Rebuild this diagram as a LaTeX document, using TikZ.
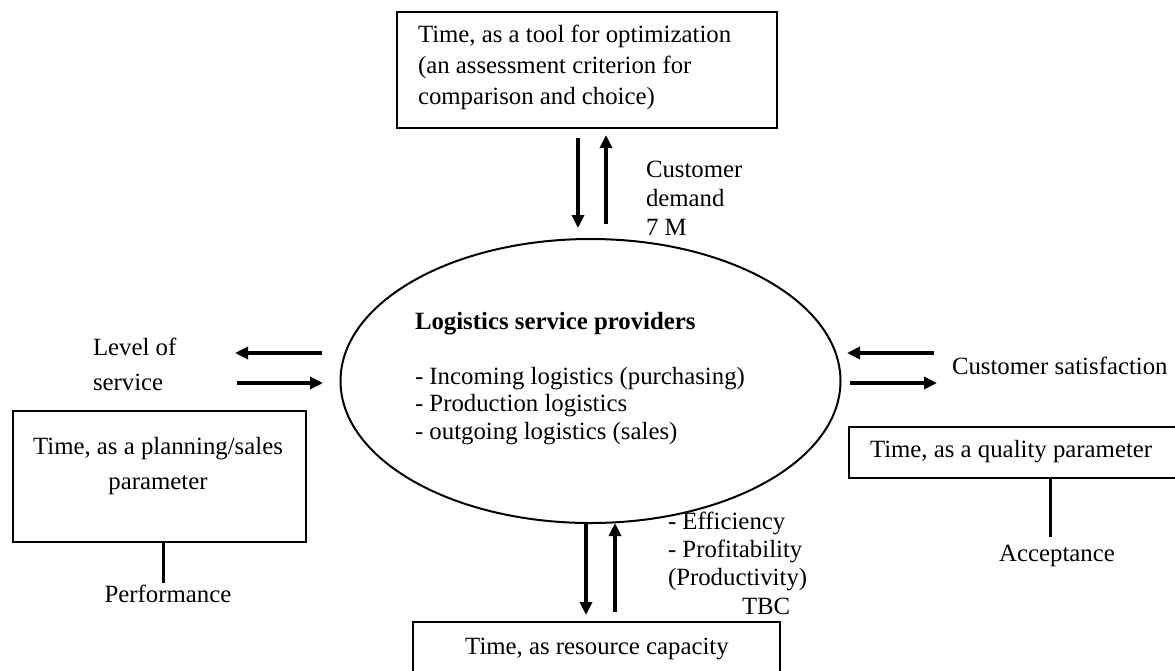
\documentclass[tikz,border=0pt]{standalone}
\usepackage{fontspec}
\setmainfont{Liberation Serif}
\usetikzlibrary{shapes.geometric,arrows.meta}
\begin{document}
\begin{tikzpicture}[x=1pt,y=-1pt,
  every node/.style={font=\fontsize{24.8}{29}\selectfont, inner sep=0pt, outer sep=0pt},
  boxst/.style={draw, line width=2.4pt, rectangle},
  arr/.style={line width=3.2pt, -{Triangle[width=12pt,length=13pt]}},
  stem/.style={line width=3pt},
  txt/.style={align=left, anchor=west}]
\useasboundingbox (0,0) rectangle (1175,670);

% boxes
\node[boxst, minimum width=380pt, minimum height=116pt] (topbox) at (587,70) {};
\node[boxst, minimum width=293pt, minimum height=131pt] (lbox) at (159.5,476.5) {};
\node[boxst, minimum width=341pt, minimum height=51pt] (rbox) at (1019.5,452.5) {};
\node[boxst, minimum width=367pt, minimum height=80pt] (bbox) at (596.5,662) {};
\node[draw, ellipse, line width=2pt, minimum width=500pt, minimum height=284pt] (ell) at (590.5,381) {};

% texts
\node[txt, font=\fontsize{24.8}{31}\selectfont] (toptxt) at (418,67) {Time, as a tool for optimization\\(an assessment criterion for\\comparison and choice)};
\node[txt, font=\fontsize{24.8}{35}\selectfont] (lvl) at (93,364) {Level of\\service};
\node[align=center, font=\fontsize{24.8}{35}\selectfont] (ltxt) at (158,466) {Time, as a planning/sales\\parameter};
\node (perf) at (168,594) {Performance};
\node[txt] (dem) at (646,198) {Customer\\demand\\7 M};
\node[txt, font=\bfseries\fontsize{24.8}{29}\selectfont] (title) at (415,324) {Logistics service providers};
\node[txt, font=\fontsize{24.8}{27.5}\selectfont] (list) at (415,406) {- Incoming logistics (purchasing)\\- Production logistics\\- outgoing logistics (sales)};
\node[txt] (sat) at (952,366) {Customer satisfaction};
\node[txt] (rtxt) at (870,452) {Time, as a quality parameter};
\node (acc) at (1057,556) {Acceptance};
\node[txt, font=\fontsize{24.8}{28.3}\selectfont] (eff) at (668,563) {- Efficiency\\- Profitability\\(Productivity)\\\hspace*{74pt}TBC};
\node (btxt) at (597,649) {Time, as resource capacity};

% coordinates for arrow ends
\coordinate (t1a) at (578,138); \coordinate (t1b) at (578,228);
\coordinate (t2a) at (606,224); \coordinate (t2b) at (606,135);
\coordinate (l1a) at (322,353); \coordinate (l1b) at (235,353);
\coordinate (l2a) at (237,383); \coordinate (l2b) at (323,383);
\coordinate (r1a) at (934,353); \coordinate (r1b) at (847,353);
\coordinate (r2a) at (850,383); \coordinate (r2b) at (937,383);
\coordinate (b1a) at (586,523); \coordinate (b1b) at (586,615);
\coordinate (b2a) at (615,612); \coordinate (b2b) at (615,523);
\coordinate (ls) at (163,583);
\coordinate (rs) at (1050,537);

\draw[arr] (t1a) -- (t1b);
\draw[arr] (t2a) -- (t2b);
\draw[arr] (l1a) -- (l1b);
\draw[arr] (l2a) -- (l2b);
\draw[arr] (r1a) -- (r1b);
\draw[arr] (r2a) -- (r2b);
\draw[arr] (b1a) -- (b1b);
\draw[arr] (b2a) -- (b2b);
\draw[stem] (lbox.south -| ls) -- (ls);
\draw[stem] (rbox.south -| rs) -- (rs);
\end{tikzpicture}
\end{document}
